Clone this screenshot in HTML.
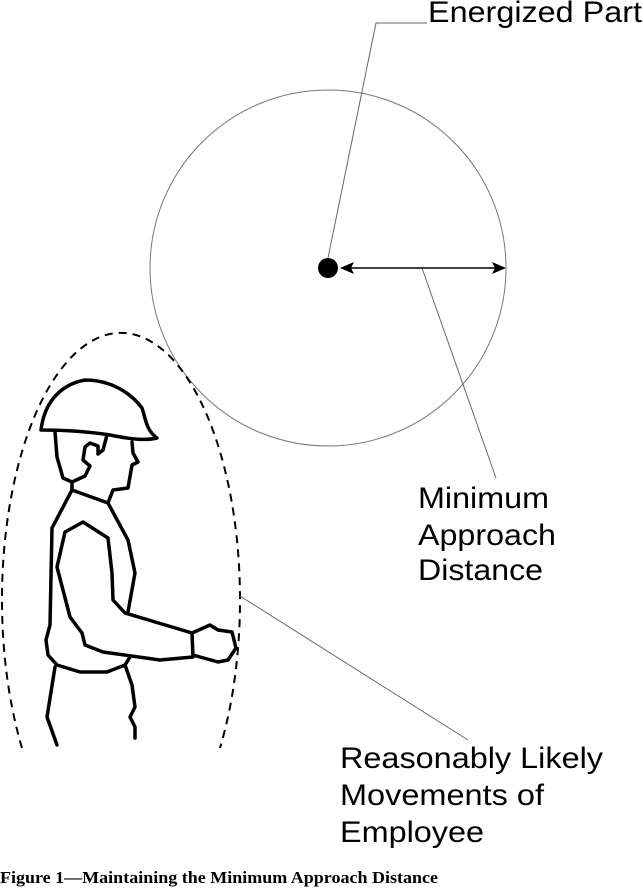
<!DOCTYPE html>
<html><head><meta charset="utf-8"><style>
html,body{margin:0;padding:0;background:#fff;}
svg{display:block;}
</style></head><body>
<svg width="643" height="888" viewBox="0 0 643 888" xmlns="http://www.w3.org/2000/svg">
<circle cx="328" cy="268" r="178" fill="none" stroke="#777" stroke-width="1"/>
<path d="M22,748 A119,267 0 1 1 220,748" fill="none" stroke="#000" stroke-width="2" stroke-dasharray="8,6"/>
<polyline points="328,258 376,23 427,23" fill="none" stroke="#666" stroke-width="1"/>
<line x1="422" y1="268" x2="496" y2="478" stroke="#666" stroke-width="1"/>
<line x1="240" y1="596" x2="468" y2="740" stroke="#666" stroke-width="1"/>
<circle cx="328" cy="268" r="10" fill="#000"/>
<line x1="345" y1="268" x2="500" y2="268" stroke="#000" stroke-width="1.5"/>
<polygon points="340,268 354,262 351,268 354,274" fill="#000"/>
<polygon points="506,268 492,262 495,268 492,274" fill="#000"/>
<g fill="none" stroke="#000" stroke-width="3.5" stroke-linejoin="round" stroke-linecap="round">
<path d="M41,430 C44,405 58,385 85,380 C110,380 130,392 142,408 C146,420 146,430 157,438 C145,441 130,439 110,435 C85,431 60,430 41,430 Z"/>
<polyline points="55,432 57,457 63,478 72,482 85,476 90,466 83,460 85,447 90,443 98,446 98,454 103,450 107,435"/>
<polyline points="132,442 133,453 138,462 132,465 128,488 113,490 108,503"/>
<polyline points="72,482 72,490 108,503 128,540 135,573 128,612"/>
<polyline points="72,490 52,528 50,625 46,640 48,655 57,665 80,672 107,672 125,665 130,657"/>
<polygon points="83,522 65,532 57,567 70,617 82,633 85,645 103,652 160,660 193,657 192,633 125,613 113,600 112,573 108,538"/>
<polyline points="192,633 210,625 218,630 232,632 236,648 228,660 218,662 193,655"/>
<polyline points="55,667 47,717 57,745"/>
<polyline points="125,665 132,685 135,707 130,717 135,727 135,738"/>
</g>
<g font-family="Liberation Sans, sans-serif" font-size="30" fill="#000" lengthAdjust="spacingAndGlyphs">
<text x="428" y="22" textLength="214" lengthAdjust="spacingAndGlyphs">Energized Part</text>
<text x="418" y="508" textLength="131" lengthAdjust="spacingAndGlyphs">Minimum</text>
<text x="418" y="545" textLength="138" lengthAdjust="spacingAndGlyphs">Approach</text>
<text x="418" y="580" textLength="125" lengthAdjust="spacingAndGlyphs">Distance</text>
<text x="340" y="768" textLength="263" lengthAdjust="spacingAndGlyphs">Reasonably Likely</text>
<text x="340" y="805" textLength="204" lengthAdjust="spacingAndGlyphs">Movements of</text>
<text x="340" y="842" textLength="144" lengthAdjust="spacingAndGlyphs">Employee</text>
</g>
<text x="0" y="883" font-family="Liberation Serif, serif" font-weight="bold" font-size="17" fill="#000" textLength="438" lengthAdjust="spacingAndGlyphs">Figure 1—Maintaining the Minimum Approach Distance</text>
</svg>
</body></html>
